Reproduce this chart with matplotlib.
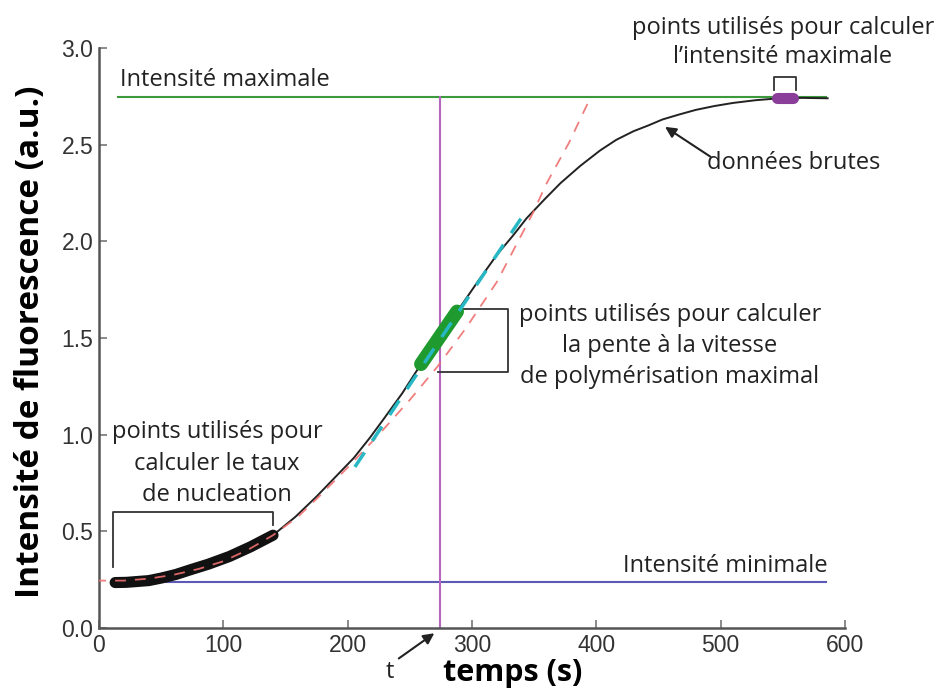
import matplotlib
matplotlib.use('Agg')
import matplotlib.pyplot as plt

# raw fluorescence curve
t_raw = [13, 22, 30, 40, 50, 62, 73, 88, 105, 122, 140, 158, 175, 190, 205, 218,
         230, 244, 257, 273, 290, 305, 320, 333, 344, 358, 371, 387, 403, 416,
         430, 442, 453, 466, 480, 495, 510, 528, 547, 566, 586]
f_raw = [0.235, 0.236, 0.24, 0.245, 0.258, 0.277, 0.30, 0.33, 0.37, 0.42, 0.48,
         0.575, 0.68, 0.78, 0.88, 0.985, 1.09, 1.215, 1.345, 1.50, 1.655, 1.795,
         1.93, 2.03, 2.12, 2.215, 2.30, 2.39, 2.47, 2.525, 2.57, 2.60, 2.63,
         2.655, 2.68, 2.70, 2.716, 2.73, 2.74, 2.742, 2.74]

# nucleation points
t_nuc = [13, 22, 30, 40, 50, 62, 73, 88, 105, 122, 140]
f_nuc = [0.235, 0.236, 0.24, 0.245, 0.258, 0.277, 0.30, 0.33, 0.37, 0.42, 0.48]

# fit of the nucleation phase (red dashed)
t_fit = [-3, 20, 40, 60, 80, 100, 120, 140, 160, 177, 200, 225, 250, 272, 295,
         320, 349, 360, 378, 395]
f_fit = [0.245, 0.245, 0.255, 0.275, 0.305, 0.345, 0.405, 0.48, 0.575, 0.68,
         0.83, 1.0, 1.18, 1.35, 1.55, 1.79, 2.147, 2.30, 2.51, 2.74]

# points used for the max slope + tangent
t_slope = [259, 288]
f_slope = [1.365, 1.637]
t_tan = [205.8, 342.4]
f_tan = [0.833, 2.147]

# points used for max intensity
t_max = [545, 558]
f_max = [2.742, 2.742]

i_max = 2.747
i_min = 0.238
t_half = 274

fig = plt.figure(figsize=(9.38, 6.9), dpi=100)
ax = fig.add_axes([0.1055, 0.0899, 0.7954, 0.8405])

fnt = 'Open Sans'
ann = dict(fontsize=17, family=fnt, color='#222222')

ax.plot([15, 585], [i_max, i_max], color='#3c9a3c', lw=1.5)
ax.plot([15, 585], [i_min, i_min], color='#5b5bb5', lw=1.5)
ax.plot([t_half, t_half], [0, i_max], color='#b766c0', lw=1.5)

ax.plot(t_raw, f_raw, color='#222222', lw=1.4, zorder=3)
ax.plot(t_nuc, f_nuc, color='#111111', lw=8, solid_capstyle='round', zorder=4)
ax.plot(t_slope, f_slope, color='#1f9a2e', lw=10, solid_capstyle='round', zorder=4)
ax.plot(t_max, f_max, color='#8a3e9a', lw=8, solid_capstyle='round', zorder=4)

ax.plot(t_fit, f_fit, color='#f07070', lw=1.3, ls=(0, (6, 5)), alpha=0.9, zorder=5)
ax.plot(t_tan, f_tan, color='#27b8c4', lw=2.5, ls=(0, (5, 4)), zorder=5)

ax.text(17, 2.775, 'Intensité maximale', ha='left', va='bottom', **ann)
ax.text(586, 0.258, 'Intensité minimale', ha='right', va='bottom', **ann)
ax.text(95, 0.85, 'points utilisés pour\ncalculer le taux\nde nucleation',
        ha='center', va='center', linespacing=1.4, **ann)
ax.text(459, 1.46, 'points utilisés pour calculer\nla pente à la vitesse\n'
        'de polymérisation maximal', ha='center', va='center',
        linespacing=1.4, **ann)
ax.text(550, 3.03, 'points utilisés pour calculer\nl’intensité maximale',
        ha='center', va='center', linespacing=1.3, clip_on=False, **ann)
ax.text(559, 2.405, 'données brutes', ha='center', va='center', **ann)
ax.text(234, -0.23, 't', ha='center', va='center', **ann)
ax.text(333, -0.235, 'temps (s)', ha='center', va='center', fontsize=22,
        fontweight='bold', family=fnt, clip_on=False)
fig.text(0.033, 0.505, 'Intensité de fluorescence (a.u.)', rotation=90,
         ha='center', va='center', fontsize=24, fontweight='bold', family=fnt)

# brackets
br = dict(color='#333333', lw=1.3, clip_on=False)
ax.plot([11.3, 11.3, 139.9, 139.9], [0.316, 0.60, 0.60, 0.533], **br)
ax.plot([292.6, 328.8, 328.8, 272.5], [1.650, 1.650, 1.324, 1.324], **br)
ax.plot([542.6, 542.6, 560.3, 560.3], [2.783, 2.852, 2.852, 2.783], **br)

arr = dict(arrowstyle='-|>', color='#222222', lw=1.5, mutation_scale=16)
ax.annotate('', xy=(453.4, 2.60), xytext=(493.6, 2.43), arrowprops=arr)
ax.annotate('', xy=(271.5, -0.019), xytext=(239.3, -0.166),
            arrowprops=arr, annotation_clip=False)

ax.set_xlim(0, 600)
ax.set_ylim(0, 3.0)
ax.set_xticks([0, 100, 200, 300, 400, 500, 600])
ax.set_yticks([0.0, 0.5, 1.0, 1.5, 2.0, 2.5, 3.0])
ax.set_yticklabels(['0.0', '0.5', '1.0', '1.5', '2.0', '2.5', '3.0'])
for s in ['top', 'right']:
    ax.spines[s].set_visible(False)
for s in ['left', 'bottom']:
    ax.spines[s].set_color('#555555')
    ax.spines[s].set_linewidth(1.8)
ax.tick_params(direction='in', length=6, width=1.2, color='#777777',
               labelsize=16.5, labelcolor='#333333', pad=4)
for lab in ax.get_xticklabels() + ax.get_yticklabels():
    lab.set_family('Liberation Sans')

fig.savefig('out.png', dpi=100, facecolor='white')
